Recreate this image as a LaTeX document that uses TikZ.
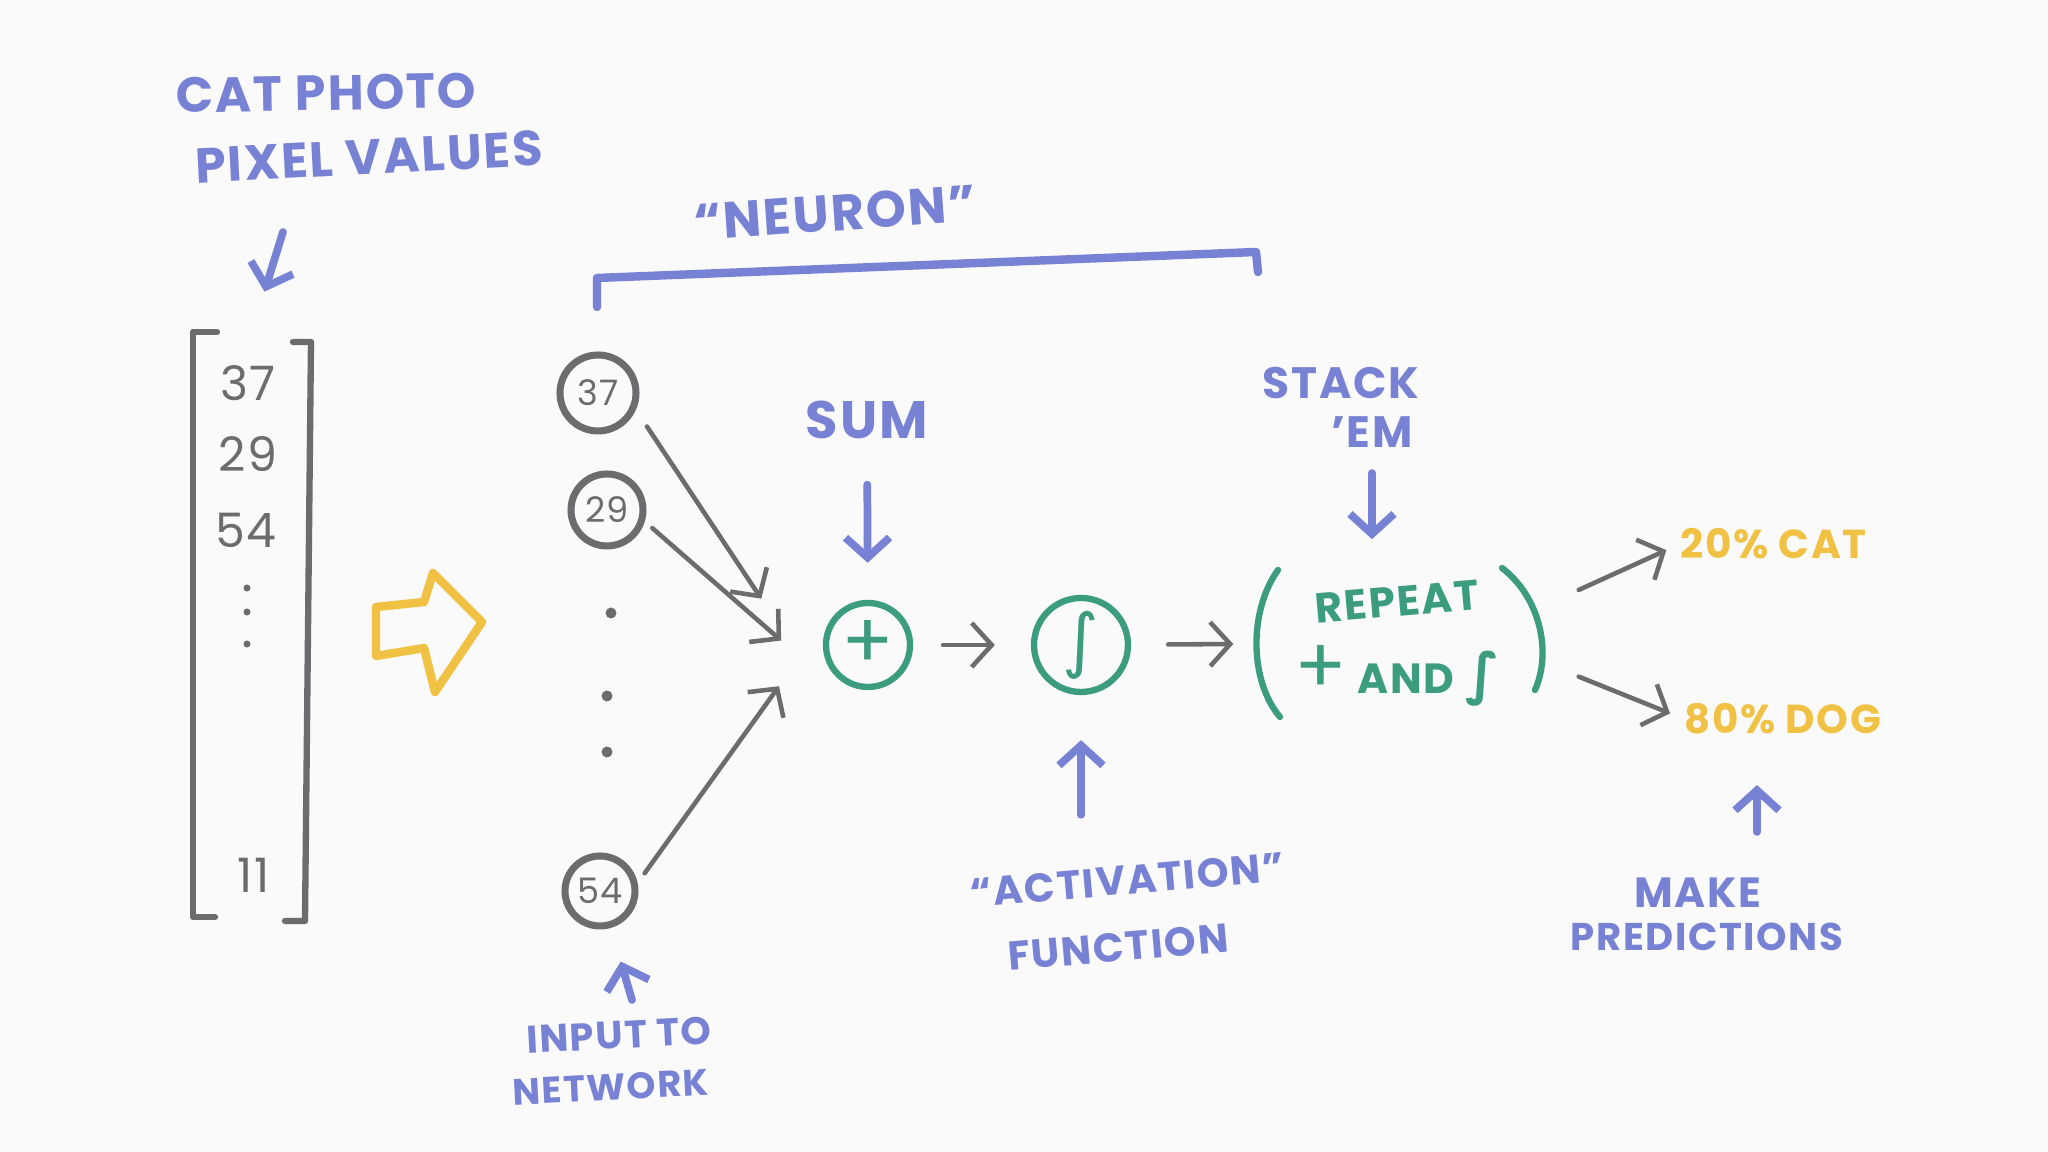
\documentclass[tikz,border=0pt]{standalone}
\usepackage{fontspec}
\setmainfont[LetterSpace=4]{Poppins}
\newfontfamily\sigfont{DejaVu Sans}
\usetikzlibrary{arrows.meta}
\definecolor{ink}{RGB}{120,130,212}
\definecolor{lead}{RGB}{108,108,110}
\definecolor{mint}{RGB}{60,156,126}
\definecolor{gold}{RGB}{240,193,66}
\definecolor{paper}{RGB}{250,250,251}
\tikzset{
  grayarr/.style={lead, line width=1.3pt, -{Straight Barb[length=2mm,width=4.4mm]}},
  bluearr/.style={ink, line width=2.2pt, -{Straight Barb[length=2mm,width=4.4mm]}},
  innode/.style={circle, draw=lead, line width=2pt, inner sep=0pt, text=lead, font=\fontsize{10}{10}\selectfont},
  opnode/.style={circle, draw=mint, line width=1.8pt, inner sep=0pt, text=mint},
  blurb/.style={text=ink, inner sep=0pt},
  outcome/.style={text=gold, inner sep=0pt, anchor=west, font=\fontsize{11.5}{11.5}\bfseries},
}
\begin{document}
\begin{tikzpicture}[line cap=round, line join=round]
\fill[paper] (0,0) rectangle (20.48,11.52);

\node[blurb, rotate=1, font=\fontsize{14}{14}\bfseries] (L1) at (3.26,10.59) {CAT PHOTO};
\node[blurb, rotate=3, font=\fontsize{14}{14}\bfseries] (L2) at (3.69,9.95) {PIXEL VALUES};

\node[minimum width=1.15cm, minimum height=5.85cm] (M) at (2.52,5.27) {};
\node[text=lead, font=\fontsize{13.5}{13.5}\selectfont] (m1) at (2.48,7.69) {37};
\node[text=lead, font=\fontsize{13.5}{13.5}\selectfont] (m2) at (2.48,6.98) {29};
\node[text=lead, font=\fontsize{13.5}{13.5}\selectfont] (m3) at (2.46,6.22) {54};
\node[text=lead, font=\fontsize{13.5}{13.5}\selectfont] (m4) at (2.54,2.77) {11};
\foreach \y in {5.64,5.40,5.08}
  \fill[lead] (2.47,\y) circle (0.035);
\draw[lead, line width=1.8pt] (2.17,8.20) -- (1.93,8.20) -- (1.93,2.35) -- (2.15,2.35);
\draw[lead, line width=1.8pt] (2.93,8.10) -- (3.11,8.10) -- (3.05,2.31) -- (2.85,2.31);
\coordinate (a0) at (2.83,9.20);
\draw[bluearr, shorten >=4.2mm] (a0) -- (M.north);

\draw[gold, line width=2.4pt] (3.76,4.96) -- (3.76,5.45) -- (4.24,5.50) -- (4.33,5.79)
  -- (4.82,5.30) -- (4.35,4.60) -- (4.24,5.04) -- cycle;

\node[innode, minimum size=7.6mm] (I1) at (5.98,7.59) {37};
\node[innode, minimum size=7.2mm] (I2) at (6.07,6.42) {29};
\node[innode, minimum size=7.0mm] (I3) at (6.00,2.61) {54};
\foreach \p in {(6.11,5.39),(6.07,4.56),(6.07,4.00)}
  \fill[lead] \p circle (0.055);

\coordinate (J) at (8.0,4.95);
\draw[grayarr, shorten <=2mm, shorten >=7mm] (I1.-24) -- (J);
\draw[grayarr, shorten <=1mm, shorten >=2.5mm] (I2.-17) -- (J);
\draw[grayarr, shorten <=1.2mm, shorten >=3.6mm] (I3.12) -- (J);

\node[opnode, minimum size=8.4mm, font=\fontsize{22}{22}\selectfont] (S) at (8.68,5.07) {+};
\node[opnode, minimum size=9.4mm, font=\fontsize{20}{20}\sigfont] (F) at (10.81,5.07) {∫};
\node[text=mint, align=center, minimum width=2.9cm, minimum height=1.5cm, font=\fontsize{12}{20}\bfseries] (G) at (13.97,5.09)
  {\rotatebox{5}{REPEAT}\\{\fontsize{22}{20}\mdseries +} AND {\fontsize{16}{16}\sigfont ∫}};
\draw[mint, line width=1.8pt] (12.78,5.82) .. controls (12.48,5.40) and (12.50,4.70) .. (12.80,4.35);
\draw[mint, line width=1.8pt] (15.02,5.84) .. controls (15.40,5.55) and (15.52,5.00) .. (15.35,4.62);

\draw[grayarr, shorten <=3mm, shorten >=3.6mm] (S) -- (F);
\draw[grayarr, shorten <=3.7mm, shorten >=1.8mm] (F) -- (G);

\node[outcome] (P1) at (16.80,6.08) {20\% CAT};
\node[outcome] (P2) at (16.84,4.33) {80\% DOG};
\draw[grayarr, shorten >=1.5mm] ([xshift=3.6mm]G.20) -- (P1.west);
\draw[grayarr, shorten >=1.5mm] ([xshift=3.6mm]G.-13) -- (P2.west);

\node[blurb, rotate=4, font=\fontsize{14.5}{14.5}\bfseries] (L0) at (8.35,9.39) {“NEURON”};
\draw[ink, line width=2.4pt] (5.97,8.45) -- (5.97,8.74) -- (12.56,9.00) -- (12.58,8.80);

\node[blurb, font=\fontsize{15}{15}\bfseries] (L4) at (8.67,7.32) {SUM};
\draw[bluearr, shorten <=4.5mm, shorten >=3.7mm] (L4) -- (S);

\node[blurb, font=\fontsize{12.5}{12.5}\bfseries] (L5) at (13.41,7.69) {STACK};
\node[blurb, font=\fontsize{12.5}{12.5}\bfseries] (L6) at (13.72,7.20) {'EM};
\draw[bluearr, shorten <=2.5mm, shorten >=2.8mm] (L6.south) -- (L6.south |- G.north);

\node[blurb, rotate=5, font=\fontsize{11.5}{11.5}\bfseries] (L7) at (11.27,2.72) {“ACTIVATION”};
\node[blurb, rotate=5, font=\fontsize{11.5}{11.5}\bfseries] (L8) at (11.18,2.05) {FUNCTION};
\draw[bluearr, shorten <=5mm, shorten >=4.5mm] (L7.north -| F) -- (F);

\node[blurb, font=\fontsize{12}{12}\bfseries] (L9) at (16.98,2.59) {MAKE};
\node[blurb, font=\fontsize{11}{11}\bfseries] (L10) at (17.07,2.15) {PREDICTIONS};
\coordinate (a4) at (17.57,3.20);
\draw[bluearr, shorten >=5mm] (a4) -- (a4 |- P2.south);

\node[blurb, rotate=3, font=\fontsize{11}{11}\bfseries] (L11) at (6.19,1.17) {INPUT TO};
\node[blurb, rotate=3, font=\fontsize{10.5}{10.5}\bfseries] (L12) at (6.11,0.65) {NETWORK};
\coordinate (a5) at (6.32,1.52);
\draw[bluearr, shorten >=3.5mm] (a5) -- (I3);
\end{tikzpicture}
\end{document}
